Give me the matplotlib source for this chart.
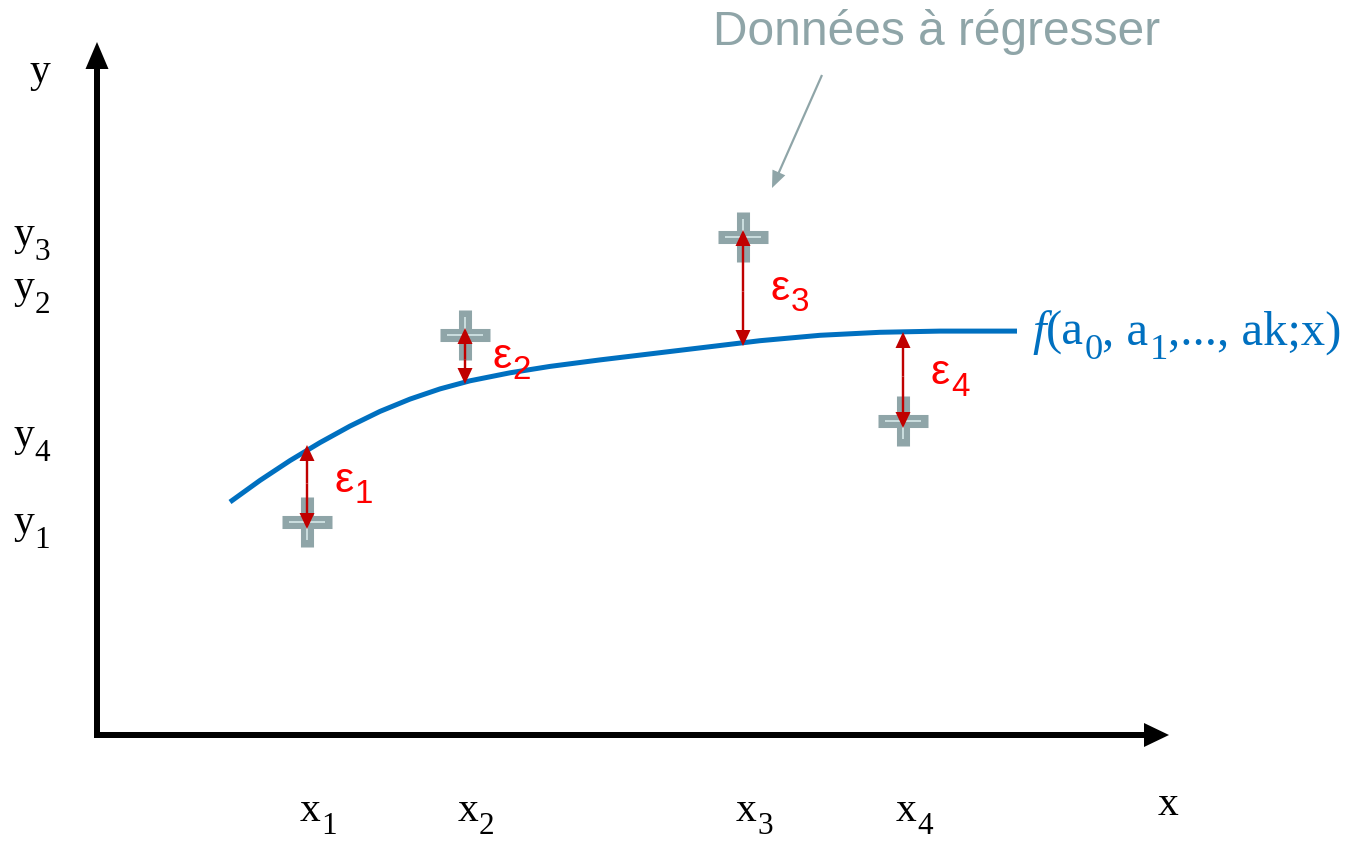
#!/usr/bin/env python3
"""Schéma de régression : données, courbe ajustée et résidus."""
import matplotlib.pyplot as plt

# data (pixel-like units, origin at the axes corner)
pt_x = [210, 368, 646, 806]
pt_y = [213, 400, 498, 314]
fit_y = [290, 351, 389, 403]          # curve side of each residual
curve_x = [133, 163, 193, 223, 253, 283, 313, 343, 373, 413, 453, 503,
           583, 663, 723, 783, 843, 920]
curve_y = [233, 254.6, 274.4, 292.4, 308.9, 323.6, 335.9, 346.1, 354.2,
           362.2, 368.6, 375.1, 384.7, 394.3, 399.7, 402.7, 403.9, 403.9]
ytick_pos = [202, 437, 490, 289]      # baselines of the y1..y4 labels
x_names = ['1', '2', '3', '4']

BLUE = '#0070c0'
GRAY = '#8fa5a8'
LIGHT = '#d5e8e8'
DARKRED = '#c00000'
RED = '#ff0000'
SERIF = 'Liberation Serif'
SANS = 'Liberation Sans'


def sub_label(ax, x, y, parts, fs, family, color='black', ha='left',
              scale=0.75, drop=0.36):
    """Chain text pieces; parts = [(text, kind)], kind in 'n', 'i', 's'."""
    txt, kind = parts[0]
    t = ax.text(x, y, txt, fontsize=fs, family=family, color=color, ha=ha,
                va='baseline', style='italic' if kind == 'i' else 'normal')
    base = prev = t
    dy = fs * (drop - 0.22 * (1 - scale))
    for txt, kind in parts[1:]:
        if kind == 's':
            t = ax.annotate(txt, xy=(1, 0), xycoords=prev, xytext=(0.5, -dy),
                            textcoords='offset points', fontsize=fs * scale,
                            family=family, color=color, ha='left', va='bottom')
        else:
            t = ax.annotate(txt, xy=(1, 0), xycoords=(prev, base), xytext=(0, 0),
                            textcoords='offset points', fontsize=fs,
                            family=family, color=color, ha='left', va='bottom',
                            style='italic' if kind == 'i' else 'normal')
            base = t
        prev = t


def arrow(ax, x0, y0, x1, y1, **kw):
    ax.arrow(x0, y0, x1 - x0, y1 - y0, length_includes_head=True, lw=0,
             zorder=3, **kw)


def main():
    fig = plt.figure(figsize=(13.55, 8.42), dpi=100)
    ax = fig.add_axes([0, 0, 1, 1])
    ax.set_xlim(-97, 1258)
    ax.set_ylim(-107, 735)
    ax.axis('off')

    # axes arrows
    arrow(ax, 0, -3, 0, 693, width=6, head_width=23, head_length=27, color='black')
    arrow(ax, -3, 0, 1072, 0, width=6, head_width=24, head_length=25, color='black')
    sub_label(ax, -57, 653, [('y', 'n')], 30, SERIF, ha='center')
    sub_label(ax, 1071, -80, [('x', 'n')], 30, SERIF, ha='center')

    # fitted curve
    ax.plot(curve_x, curve_y, color=BLUE, lw=3.6, solid_capstyle='butt',
            solid_joinstyle='round')
    sub_label(ax, 935, 390,
              [('f', 'i'), ('(a', 'n'), ('0', 's'), (', a', 'n'), ('1', 's'),
               (',..., ak;x)', 'n')], 35, SERIF, color=BLUE, drop=0.3)

    # data points
    ax.plot(pt_x, pt_y, ls='none', marker='+', ms=36, mew=9.4, color=GRAY)
    ax.plot(pt_x, pt_y, ls='none', marker='+', ms=26, mew=1.2, color=LIGHT)

    # residuals (two heads, drawn from the middle outwards)
    for x, y, f, n in zip(pt_x, pt_y, fit_y, x_names):
        mid = (y + f) / 2
        tip = y - 7 if y < f else y + 7
        for end in (tip, f):
            arrow(ax, x, mid, x, end, width=2.4, head_width=15, head_length=16,
                  color=DARKRED)
        sub_label(ax, x + 28, mid - 8, [('ε', 'n'), (n, 's')], 31, SANS,
                  color=RED, scale=0.77, drop=0.28)

    # tick labels
    for x, n in zip(pt_x, x_names):
        sub_label(ax, x + 3, -86, [('x', 'n'), (n, 's')], 30, SERIF, ha='center',
                  drop=0.33)
    for y, n in zip(ytick_pos, x_names):
        sub_label(ax, -84, y, [('y', 'n'), (n, 's')], 30, SERIF)

    # annotation
    ax.text(616, 690, 'Données à régresser', fontsize=34.5, family=SANS,
            color=GRAY, ha='left', va='baseline')
    arrow(ax, 725, 660, 675, 547, width=2.2, head_width=14, head_length=17,
          color=GRAY)

    fig.savefig('out.png', dpi=100)
    plt.close(fig)


if __name__ == '__main__':
    main()
